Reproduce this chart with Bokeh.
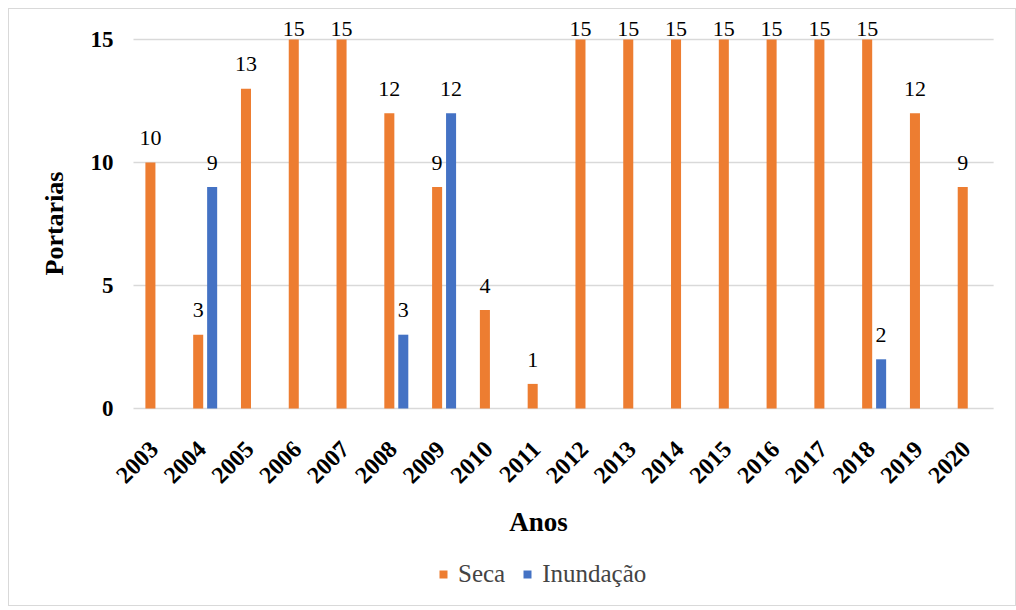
import math
from bokeh.plotting import figure
from bokeh.models import ColumnDataSource, Range1d, Legend, LegendItem, LabelSet, Label
from bokeh.embed import file_html
from bokeh.resources import INLINE

years = [str(y) for y in range(2003, 2021)]
seca = [10, 3, 13, 15, 15, 12, 9, 4, 1, 15, 15, 15, 15, 15, 15, 15, 12, 9]
inundacao = [0, 9, 0, 0, 0, 3, 12, 0, 0, 0, 0, 0, 0, 0, 0, 2, 0, 0]
y_ticks = [0, 5, 10, 15]

ORANGE = "#ED7D31"
BLUE = "#4472C4"
GRID = "#d9d9d9"
FONT = "'Liberation Serif', 'Times New Roman', serif"

n = len(years)
off = 0.146       # half distance between the two bars of a year
bar_w = 0.21
y_max = max(y_ticks)
lab_gap = 0.7     # space between a bar top and its value label
lab_cap = y_max + 0.16

pos = [i + 0.5 for i in range(n)]
src = ColumnDataSource(dict(
    year=years, pos=pos, zero=[0] * n,
    xs=[x - off for x in pos], xi=[x + off for x in pos],
    seca=seca, inundacao=inundacao,
))

# One frame covers the whole canvas; axes, year labels, titles and the
# legend are all drawn inside it on the same data scales as the bars.
p = figure(
    x_range=Range1d(-2.595, 18.50),
    y_range=Range1d(-8.09, 16.22),
    width=1008, height=598,
    output_backend="svg", toolbar_location=None,
    min_border=0, margin=(8, 0, 4, 8),
)
p.styles = {"border": "1px solid #d9d9d9"}
p.outline_line_color = None
p.background_fill_color = "white"
p.xaxis.visible = False
p.yaxis.visible = False
p.grid.visible = False

# horizontal gridlines across the year span
p.segment(x0=[0] * len(y_ticks), x1=[n] * len(y_ticks), y0=y_ticks, y1=y_ticks,
          line_color=GRID, line_width=1.5)

r_seca = p.vbar(x="xs", top="seca", width=bar_w, source=src,
                fill_color=ORANGE, line_color=None)
r_inund = p.vbar(x="xi", top="inundacao", width=bar_w, source=src,
                 fill_color=BLUE, line_color=None)

# value labels for the non-zero bars, kept inside the plot area at the top
def value_labels(xcol, vals):
    idx = [i for i, v in enumerate(vals) if v > 0]
    return ColumnDataSource(dict(
        x=[src.data[xcol][i] for i in idx],
        y=[min(vals[i] + lab_gap, lab_cap) for i in idx],
        t=[str(vals[i]) for i in idx],
    ))

for s in (value_labels("xs", seca), value_labels("xi", inundacao)):
    p.add_layout(LabelSet(x="x", y="y", text="t", source=s,
                          text_align="center", text_baseline="alphabetic",
                          text_font=FONT, text_font_size="22px", text_color="#000000"))

# y tick labels
p.add_layout(LabelSet(x=0, y="v", text="t", x_offset=-20,
                      source=ColumnDataSource(dict(v=y_ticks, t=[str(t) for t in y_ticks])),
                      text_align="right", text_baseline="middle",
                      text_font=FONT, text_font_style="bold", text_font_size="23px",
                      text_color="#000000"))

# rotated year labels under the baseline
p.add_layout(LabelSet(x="pos", y="zero", text="year", source=src,
                      angle=math.pi / 4, text_align="right", text_baseline="middle",
                      x_offset=-3, y_offset=-37,
                      text_font=FONT, text_font_style="bold", text_font_size="24px",
                      text_color="#000000"))

# axis titles
p.add_layout(Label(x=8.476, y=-4.63, text="Anos", text_align="center",
                   text_baseline="middle", text_font=FONT, text_font_style="bold",
                   text_font_size="27px", text_color="#000000"))
p.add_layout(Label(x=-1.653, y=7.52, text="Portarias", angle=math.pi / 2,
                   text_align="center", text_baseline="middle", text_font=FONT,
                   text_font_style="bold", text_font_size="26px", text_color="#000000"))

legend = Legend(items=[LegendItem(label="Seca", renderers=[r_seca]),
                       LegendItem(label="Inundação", renderers=[r_inund])],
                orientation="horizontal", location=(429, 19),
                label_text_font=FONT, label_text_font_size="25px",
                glyph_width=10, glyph_height=10, spacing=17, label_standoff=10,
                padding=5, margin=0,
                border_line_color=None, background_fill_alpha=0)
p.add_layout(legend, "center")

open("out.html", "w").write(file_html(p, INLINE))
